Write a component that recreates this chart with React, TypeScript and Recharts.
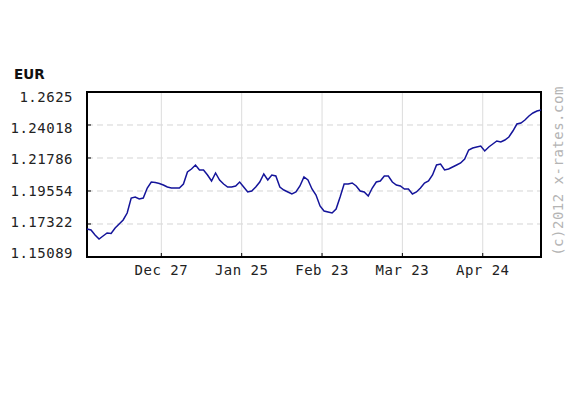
import React from 'react';
import {
  LineChart,
  Line,
  XAxis,
  YAxis,
  CartesianGrid,
  ReferenceArea
} from 'recharts';

// EUR rate, sampled roughly every business day-ish step (index based x axis)
const RATES = [
  1.16983, 1.16915, 1.16577, 1.16307, 1.16510, 1.16712, 1.16679, 1.17051, 1.17321, 1.17592,
  1.18065, 1.19080, 1.19148, 1.19012, 1.19080, 1.19756, 1.20162, 1.20128, 1.20061, 1.19959,
  1.19824, 1.19756, 1.19756, 1.19756, 1.20027, 1.20839, 1.21042, 1.21312, 1.20974, 1.20974,
  1.20636, 1.20230, 1.20771, 1.20297, 1.20027, 1.19824, 1.19824, 1.19892, 1.20162, 1.19824,
  1.19486, 1.19553, 1.19824, 1.20162, 1.20703, 1.20297, 1.20636, 1.20568, 1.19824, 1.19621,
  1.19486, 1.19350, 1.19486, 1.19892, 1.20500, 1.20297, 1.19689, 1.19283, 1.18539, 1.18201,
  1.18133, 1.18065, 1.18336, 1.19148, 1.20027, 1.20027, 1.20095, 1.19892, 1.19553, 1.19486,
  1.19215, 1.19756, 1.20162, 1.20230, 1.20568, 1.20568, 1.20162, 1.19959, 1.19892, 1.19689,
  1.19689, 1.19350, 1.19486, 1.19756, 1.20095, 1.20230, 1.20636, 1.21312, 1.21380, 1.20974,
  1.21042, 1.21177, 1.21312, 1.21447, 1.21718, 1.22327, 1.22462, 1.22530, 1.22597, 1.22259,
  1.22530, 1.22733, 1.22936, 1.22868, 1.23003, 1.23206, 1.23612, 1.24085, 1.24153, 1.24356,
  1.24627, 1.24830, 1.24965, 1.25032
];

const Y_TICKS = [1.15089, 1.17322, 1.19554, 1.21786, 1.24018, 1.2625];
const X_TICKS = [18.5, 38.5, 58.5, 78.5, 98.5];
const X_LABELS = ['Dec 27', 'Jan 25', 'Feb 23', 'Mar 23', 'Apr 24'];

const data = RATES.map((v, i) => ({ i, v }));

const FONT = '"DejaVu Sans Mono", monospace';

const YTick = (props: any) => {
  const { x, y, payload } = props;
  // labels in the original are spaced a little tighter than the gridlines
  const ty = 102 + (y - 92) * 0.945;
  const label = payload.value === 1.2625 ? '1.2625' : payload.value.toFixed(5);
  return (
    <g>
      <line x1={x} x2={x + 4} y1={y} y2={y} stroke="#000" strokeWidth={1} />
      <text x={73} y={ty} textAnchor="end" fontFamily={FONT} fontSize={14} letterSpacing={0.5} fill="#222">
        {label}
      </text>
    </g>
  );
};

const XTick = (props: any) => {
  const { x, y, payload } = props;
  const idx = X_TICKS.indexOf(payload.value);
  return (
    <g>
      <line x1={x} x2={x} y1={y} y2={y - 4} stroke="#000" strokeWidth={1} />
      <text x={x} y={y + 18} textAnchor="middle" fontFamily={FONT} fontSize={14} letterSpacing={0.5} fill="#222">
        {X_LABELS[idx]}
      </text>
    </g>
  );
};

export default function App() {
  return (
    <div style={{ position: 'absolute', left: 0, top: 0, width: 588, height: 395, background: '#fff' }}>
      <LineChart
        width={588}
        height={395}
        data={data}
        margin={{ top: 92, right: 47, bottom: 108, left: 0 }}
      >
        <CartesianGrid vertical={false} stroke="#d4d4d4" strokeDasharray="6 4" />
        <CartesianGrid horizontal={false} stroke="#dcdcdc" />
        <XAxis
          dataKey="i"
          type="number"
          domain={[0, 113]}
          ticks={X_TICKS}
          tick={<XTick />}
          tickSize={0}
          tickMargin={0}
          tickLine={false}
          axisLine={false}
          height={30}
          interval={0}
        />
        <YAxis
          type="number"
          domain={[1.15089, 1.2625]}
          ticks={Y_TICKS}
          tick={<YTick />}
          tickSize={0}
          tickMargin={0}
          tickLine={false}
          axisLine={false}
          width={87}
          interval={0}
          allowDataOverflow
        />
        <Line
          type="linear"
          dataKey="v"
          stroke="#14149a"
          strokeWidth={1.5}
          dot={false}
          isAnimationActive={false}
        />
        <ReferenceArea
          x1={0}
          x2={113}
          y1={1.15089}
          y2={1.2625}
          fill="none"
          fillOpacity={0}
          stroke="#000"
          strokeWidth={2}
          ifOverflow="visible"
        />
      </LineChart>
      <svg width={588} height={395} style={{ position: 'absolute', left: 0, top: 0, pointerEvents: 'none' }}>
        <text x={14} y={79} fontFamily='"DejaVu Sans", sans-serif' fontSize={13.5} fontWeight={600} fill="#111">
          EUR
        </text>
        <text
          x={0}
          y={0}
          transform="translate(563, 171) rotate(-90)"
          textAnchor="middle"
          fontFamily={FONT}
          fontSize={14}
          letterSpacing={0.5}
          fill="#b4b4b4"
        >
          (c)2012 x-rates.com
        </text>
      </svg>
    </div>
  );
}
